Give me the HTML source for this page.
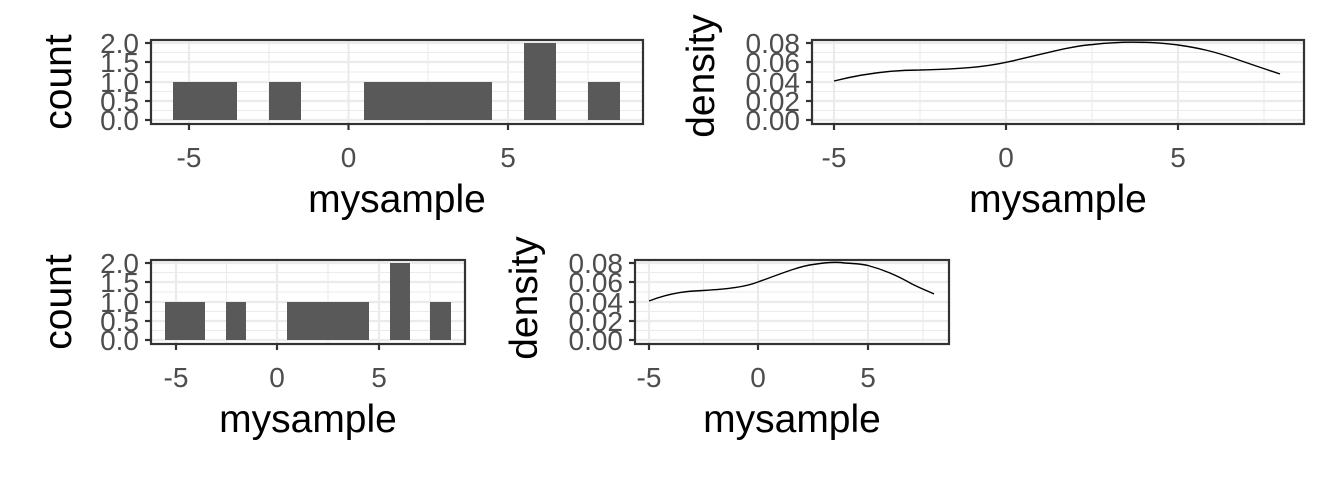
<!DOCTYPE html>
<html><head><meta charset="utf-8"><style>
html,body{margin:0;padding:0;background:#fff;}
svg{display:block;font-family:"Liberation Sans",Arial,sans-serif;}
.gM{stroke:#ebebeb;stroke-width:2.2;}
.gm{stroke:#ebebeb;stroke-width:1.1;}
.tk{stroke:#333;stroke-width:2.2;}
.fr{fill:none;stroke:#333;stroke-width:2.2;}
.tl{fill:#4d4d4d;font-size:28px;}
.at{fill:#000;font-size:39px;}
.bar{fill:#595959;}
.ln{fill:none;stroke:#000;stroke-width:1.4;}
</style></head><body>
<svg width="1344" height="480" viewBox="0 0 1344 480">
<!-- Panel 1: count -->
<g>
<g class="gm"><line x1="151" x2="643" y1="52.5" y2="52.5"/><line x1="151" x2="643" y1="72" y2="72"/><line x1="151" x2="643" y1="91.5" y2="91.5"/><line x1="151" x2="643" y1="110.5" y2="110.5"/>
<line x1="269" x2="269" y1="40" y2="124"/><line x1="428" x2="428" y1="40" y2="124"/><line x1="588" x2="588" y1="40" y2="124"/></g>
<g class="gM"><line x1="151" x2="643" y1="43" y2="43"/><line x1="151" x2="643" y1="62" y2="62"/><line x1="151" x2="643" y1="82" y2="82"/><line x1="151" x2="643" y1="101" y2="101"/><line x1="151" x2="643" y1="120" y2="120"/>
<line x1="189" x2="189" y1="40" y2="124"/><line x1="348.5" x2="348.5" y1="40" y2="124"/><line x1="508" x2="508" y1="40" y2="124"/></g>
<rect class="bar" x="173" y="82" width="64" height="38"/>
<rect class="bar" x="269" y="82" width="32" height="38"/>
<rect class="bar" x="364" y="82" width="128" height="38"/>
<rect class="bar" x="524" y="43" width="32" height="77"/>
<rect class="bar" x="588" y="82" width="32" height="38"/>
<rect class="fr" x="151" y="40" width="492" height="84"/>
<g class="tk"><line x1="145" x2="151" y1="43" y2="43"/><line x1="145" x2="151" y1="62" y2="62"/><line x1="145" x2="151" y1="82" y2="82"/><line x1="145" x2="151" y1="101" y2="101"/><line x1="145" x2="151" y1="120" y2="120"/>
<line x1="189" x2="189" y1="124" y2="130"/><line x1="348.5" x2="348.5" y1="124" y2="130"/><line x1="508" x2="508" y1="124" y2="130"/></g>
<g class="tl" text-anchor="end"><text x="139" y="53">2.0</text><text x="139" y="72">1.5</text><text x="139" y="92">1.0</text><text x="139" y="111">0.5</text><text x="139" y="130">0.0</text></g>
<g class="tl" text-anchor="middle"><text x="189" y="167">-5</text><text x="348.5" y="167">0</text><text x="508" y="167">5</text></g>
<text class="at" text-anchor="middle" x="397" y="212">mysample</text>
<text class="at" text-anchor="middle" transform="translate(71,82) rotate(-90)">count</text>
</g>
<!-- Panel 2: density -->
<g>
<g class="gm"><line x1="812" x2="1304" y1="52.5" y2="52.5"/><line x1="812" x2="1304" y1="72" y2="72"/><line x1="812" x2="1304" y1="91.5" y2="91.5"/><line x1="812" x2="1304" y1="110.5" y2="110.5"/>
<line x1="920" x2="920" y1="40" y2="124"/><line x1="1092" x2="1092" y1="40" y2="124"/><line x1="1264" x2="1264" y1="40" y2="124"/></g>
<g class="gM"><line x1="812" x2="1304" y1="43" y2="43"/><line x1="812" x2="1304" y1="62" y2="62"/><line x1="812" x2="1304" y1="82" y2="82"/><line x1="812" x2="1304" y1="101" y2="101"/><line x1="812" x2="1304" y1="120" y2="120"/>
<line x1="834" x2="834" y1="40" y2="124"/><line x1="1006" x2="1006" y1="40" y2="124"/><line x1="1178" x2="1178" y1="40" y2="124"/></g>
<path class="ln" d="M834,81 C870,72 900,70 920,70 C960,69 985,67 1006,62.3 C1040,55 1070,46 1093,44.5 C1115,42 1130,42 1140,42.3 C1160,42.5 1170,44 1178,45 C1200,48 1215,52 1233,58 C1250,64 1265,69 1280,74"/>
<rect class="fr" x="812" y="40" width="492" height="84"/>
<g class="tk"><line x1="806" x2="812" y1="43" y2="43"/><line x1="806" x2="812" y1="62" y2="62"/><line x1="806" x2="812" y1="82" y2="82"/><line x1="806" x2="812" y1="101" y2="101"/><line x1="806" x2="812" y1="120" y2="120"/>
<line x1="834" x2="834" y1="124" y2="130"/><line x1="1006" x2="1006" y1="124" y2="130"/><line x1="1178" x2="1178" y1="124" y2="130"/></g>
<g class="tl" text-anchor="end"><text x="800" y="53">0.08</text><text x="800" y="72">0.06</text><text x="800" y="92">0.04</text><text x="800" y="111">0.02</text><text x="800" y="130">0.00</text></g>
<g class="tl" text-anchor="middle"><text x="834" y="167">-5</text><text x="1006" y="167">0</text><text x="1178" y="167">5</text></g>
<text class="at" text-anchor="middle" x="1058" y="212">mysample</text>
<text class="at" text-anchor="middle" transform="translate(714,76) rotate(-90)">density</text>
</g>
<!-- Panel 3: count row2 -->
<g>
<g class="gm"><line x1="151" x2="465" y1="272.5" y2="272.5"/><line x1="151" x2="465" y1="292" y2="292"/><line x1="151" x2="465" y1="311.5" y2="311.5"/><line x1="151" x2="465" y1="330.5" y2="330.5"/>
<line x1="226.5" x2="226.5" y1="260" y2="344"/><line x1="328" x2="328" y1="260" y2="344"/><line x1="430" x2="430" y1="260" y2="344"/></g>
<g class="gM"><line x1="151" x2="465" y1="263" y2="263"/><line x1="151" x2="465" y1="282" y2="282"/><line x1="151" x2="465" y1="302" y2="302"/><line x1="151" x2="465" y1="321" y2="321"/><line x1="151" x2="465" y1="340" y2="340"/>
<line x1="176" x2="176" y1="260" y2="344"/><line x1="277" x2="277" y1="260" y2="344"/><line x1="379" x2="379" y1="260" y2="344"/></g>
<rect class="bar" x="165" y="302" width="40" height="38"/>
<rect class="bar" x="226" y="302" width="20" height="38"/>
<rect class="bar" x="287" y="302" width="82" height="38"/>
<rect class="bar" x="390" y="263" width="20" height="77"/>
<rect class="bar" x="430" y="302" width="21" height="38"/>
<rect class="fr" x="151" y="260" width="314" height="84"/>
<g class="tk"><line x1="145" x2="151" y1="263" y2="263"/><line x1="145" x2="151" y1="282" y2="282"/><line x1="145" x2="151" y1="302" y2="302"/><line x1="145" x2="151" y1="321" y2="321"/><line x1="145" x2="151" y1="340" y2="340"/>
<line x1="176" x2="176" y1="344" y2="350"/><line x1="277" x2="277" y1="344" y2="350"/><line x1="379" x2="379" y1="344" y2="350"/></g>
<g class="tl" text-anchor="end"><text x="139" y="273">2.0</text><text x="139" y="292">1.5</text><text x="139" y="312">1.0</text><text x="139" y="331">0.5</text><text x="139" y="350">0.0</text></g>
<g class="tl" text-anchor="middle"><text x="176" y="387">-5</text><text x="277" y="387">0</text><text x="379" y="387">5</text></g>
<text class="at" text-anchor="middle" x="308" y="432">mysample</text>
<text class="at" text-anchor="middle" transform="translate(71,302) rotate(-90)">count</text>
</g>
<!-- Panel 4: density row2 -->
<g>
<g class="gm"><line x1="635" x2="949" y1="272.5" y2="272.5"/><line x1="635" x2="949" y1="292" y2="292"/><line x1="635" x2="949" y1="311.5" y2="311.5"/><line x1="635" x2="949" y1="330.5" y2="330.5"/>
<line x1="703.5" x2="703.5" y1="260" y2="344"/><line x1="813" x2="813" y1="260" y2="344"/><line x1="923" x2="923" y1="260" y2="344"/></g>
<g class="gM"><line x1="635" x2="949" y1="263" y2="263"/><line x1="635" x2="949" y1="282" y2="282"/><line x1="635" x2="949" y1="302" y2="302"/><line x1="635" x2="949" y1="321" y2="321"/><line x1="635" x2="949" y1="340" y2="340"/>
<line x1="649" x2="649" y1="260" y2="344"/><line x1="758" x2="758" y1="260" y2="344"/><line x1="868" x2="868" y1="260" y2="344"/></g>
<path class="ln" d="M649,301 C672,292 690,291 703,290.5 C728,289 745,287 758,282 C780,274 800,266 813,264.5 C828,262 838,262 845,263 C855,263.5 862,264 868,265.5 C885,270 900,277 912,284 C922,289 930,292 934,294"/>
<rect class="fr" x="635" y="260" width="314" height="84"/>
<g class="tk"><line x1="629" x2="635" y1="263" y2="263"/><line x1="629" x2="635" y1="282" y2="282"/><line x1="629" x2="635" y1="302" y2="302"/><line x1="629" x2="635" y1="321" y2="321"/><line x1="629" x2="635" y1="340" y2="340"/>
<line x1="649" x2="649" y1="344" y2="350"/><line x1="758" x2="758" y1="344" y2="350"/><line x1="868" x2="868" y1="344" y2="350"/></g>
<g class="tl" text-anchor="end"><text x="623" y="273">0.08</text><text x="623" y="292">0.06</text><text x="623" y="312">0.04</text><text x="623" y="331">0.02</text><text x="623" y="350">0.00</text></g>
<g class="tl" text-anchor="middle"><text x="649" y="387">-5</text><text x="758" y="387">0</text><text x="868" y="387">5</text></g>
<text class="at" text-anchor="middle" x="792" y="432">mysample</text>
<text class="at" text-anchor="middle" transform="translate(537,298) rotate(-90)">density</text>
</g>
</svg>
</body></html>
